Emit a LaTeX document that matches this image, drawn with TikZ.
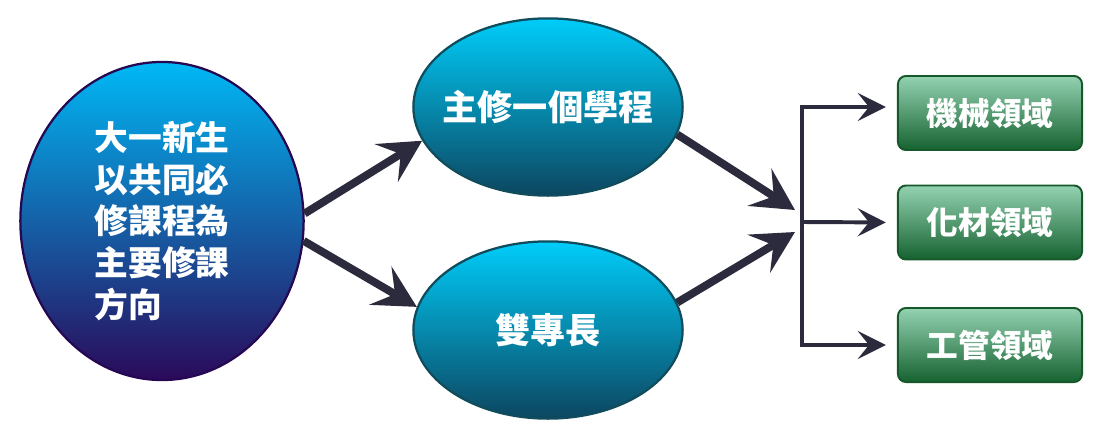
\documentclass[tikz,border=0pt]{standalone}
\usepackage{fontspec}
\newfontfamily\cjk{Noto Sans CJK TC}
\usetikzlibrary{shapes.geometric,arrows.meta}
\definecolor{linkc}{RGB}{43,43,61}

\begin{document}
\begin{tikzpicture}[x=0.025cm,y=-0.025cm,
  startoval/.style={ellipse,draw={rgb,255:red,38;green,8;blue,82},line width=1.6pt,inner sep=0pt,
    top color={rgb,255:red,0;green,184;blue,245},middle color={rgb,255:red,22;green,92;blue,185},bottom color={rgb,255:red,42;green,10;blue,90},
    text=white,font=\cjk\bfseries\fontsize{24}{29.6}\selectfont},
  pathoval/.style={ellipse,draw={rgb,255:red,16;green,76;blue,92},line width=1.6pt,inner xsep=-1cm,inner ysep=0pt,
    minimum width=6.73cm,minimum height=4.43cm,
    top color={rgb,255:red,0;green,205;blue,250},middle color={rgb,255:red,4;green,140;blue,178},bottom color={rgb,255:red,12;green,70;blue,96},
    text=white,font=\cjk\bfseries\fontsize{25}{30}\selectfont},
  fieldbox/.style={rectangle,rounded corners=0.2cm,draw={rgb,255:red,22;green,88;blue,42},line width=1.4pt,
    minimum width=4.6cm,minimum height=1.85cm,
    top color={rgb,255:red,148;green,210;blue,178},bottom color={rgb,255:red,22;green,98;blue,48},
    text=white,font=\cjk\bfseries\fontsize{22.5}{27}\selectfont},
  mainlink/.style={draw=linkc,line width=5.6pt,-{Stealth[length=1.05cm,width=1.1cm,inset=0.42cm]}},
  branchlink/.style={draw=linkc,line width=2.8pt,line join=miter,-{Stealth[length=0.7cm,width=0.7cm,inset=0.28cm]},shorten >=0.28cm}]
\useasboundingbox (0,0) rectangle (1100,442);
\node[startoval,minimum width=7.08cm,minimum height=7.95cm,align=left] (start) at (162,221) {大一新生\\以共同必\\修課程為\\主要修課\\方向};
\node[pathoval] (major) at (548,107) {主修一個學程};
\node[pathoval] (dual) at (548,330) {雙專長};
\node[fieldbox] (mech) at (990,113) {機械領域};
\node[fieldbox] (chem) at (990,222.5) {化材領域};
\node[fieldbox] (mgmt) at (990,345) {工管領域};
\coordinate (inA) at (795,210);
\coordinate (inB) at (795,232);
\coordinate (fork) at (802,222);
\draw[mainlink] (start.3) -- (major.195);
\draw[mainlink] (start.-8) -- (dual.170);
\draw[mainlink] (major.-12) -- (inA);
\draw[mainlink] (dual.12) -- (inB);
\draw[branchlink] (fork) |- ([yshift=0.15cm]mech.west);
\draw[branchlink] (fork) -- (chem.west);
\draw[branchlink] (fork) |- (mgmt.west);
\end{tikzpicture}
\end{document}
